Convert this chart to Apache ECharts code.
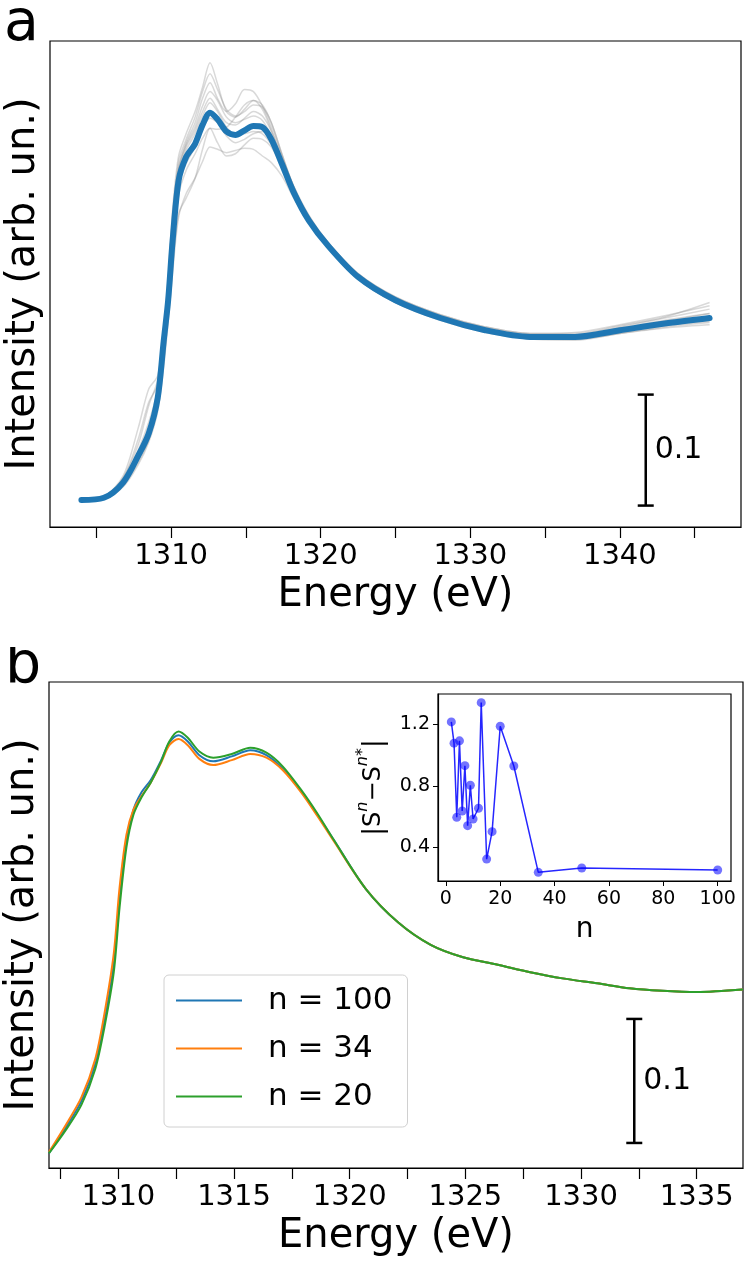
<!DOCTYPE html>
<html>
<head>
<meta charset="utf-8">
<title>XAS spectra</title>
<script src="https://cdn.jsdelivr.net/npm/echarts@6.0.0/dist/echarts.min.js"></script>
<style>
    html, body { margin: 0; padding: 0; background: #ffffff; }
    #main { width: 747px; height: 1265px; }
</style>
</head>
<body>
<div id="main"></div>
<script>
// ---------- panel a : energy grid shared by all the curves ----------
var energyA = [1304, 1305.5, 1306.8, 1307.8, 1308.5, 1309.1, 1309.5, 1309.8, 1310.1, 1310.5,
    1311, 1311.6, 1312.1, 1312.6, 1313.1, 1313.7, 1314.3, 1314.9, 1315.5, 1316.1,
    1316.7, 1317.4, 1318.2, 1319.2, 1320.5, 1322.5, 1325, 1328, 1331, 1334,
    1337, 1340, 1343, 1346]

// mean spectrum (blue)
var meanA = [0.000, 0.002, 0.016, 0.040, 0.060, 0.092, 0.143, 0.180, 0.234, 0.288,
    0.309, 0.321, 0.338, 0.349, 0.343, 0.332, 0.329, 0.333, 0.337, 0.336,
    0.325, 0.303, 0.277, 0.252, 0.229, 0.201, 0.180, 0.164, 0.153, 0.147,
    0.147, 0.153, 0.159, 0.164]

// individual spectra (grey)
var grey1 = [0.000, 0.003, 0.018, 0.045, 0.070, 0.100, 0.150, 0.200, 0.262, 0.310, 0.330, 0.350, 0.372, 0.394, 0.375, 0.350, 0.345, 0.352, 0.360, 0.352, 0.333, 0.308, 0.280, 0.255, 0.231, 0.203, 0.182, 0.166, 0.155, 0.149, 0.149, 0.156, 0.164, 0.172]
var grey2 = [0.000, 0.002, 0.020, 0.050, 0.085, 0.108, 0.150, 0.195, 0.250, 0.300, 0.322, 0.340, 0.362, 0.376, 0.362, 0.350, 0.357, 0.370, 0.368, 0.355, 0.336, 0.310, 0.283, 0.257, 0.232, 0.204, 0.183, 0.167, 0.156, 0.150, 0.151, 0.158, 0.166, 0.175]
var grey3 = [0.000, 0.001, 0.012, 0.032, 0.052, 0.080, 0.120, 0.160, 0.205, 0.255, 0.276, 0.290, 0.305, 0.318, 0.316, 0.313, 0.315, 0.317, 0.316, 0.310, 0.304, 0.292, 0.272, 0.250, 0.228, 0.199, 0.178, 0.162, 0.151, 0.145, 0.144, 0.150, 0.155, 0.158]
var grey4 = [0.000, 0.003, 0.022, 0.065, 0.100, 0.112, 0.150, 0.190, 0.245, 0.295, 0.318, 0.333, 0.350, 0.362, 0.352, 0.340, 0.338, 0.344, 0.350, 0.346, 0.332, 0.306, 0.279, 0.254, 0.230, 0.202, 0.181, 0.165, 0.154, 0.148, 0.148, 0.154, 0.161, 0.168]
var grey5 = [0.000, 0.002, 0.017, 0.042, 0.063, 0.096, 0.150, 0.192, 0.245, 0.298, 0.320, 0.336, 0.355, 0.368, 0.360, 0.345, 0.340, 0.343, 0.346, 0.342, 0.328, 0.305, 0.278, 0.253, 0.230, 0.202, 0.181, 0.165, 0.154, 0.148, 0.148, 0.155, 0.162, 0.168]
var grey6 = [0.000, 0.001, 0.014, 0.036, 0.055, 0.086, 0.130, 0.170, 0.222, 0.275, 0.297, 0.312, 0.326, 0.335, 0.334, 0.336, 0.345, 0.356, 0.360, 0.356, 0.340, 0.312, 0.282, 0.255, 0.231, 0.203, 0.181, 0.165, 0.154, 0.148, 0.147, 0.152, 0.158, 0.162]
var grey7 = [0.000, 0.002, 0.016, 0.040, 0.062, 0.094, 0.146, 0.188, 0.240, 0.292, 0.315, 0.330, 0.346, 0.358, 0.350, 0.336, 0.330, 0.330, 0.332, 0.330, 0.320, 0.300, 0.276, 0.251, 0.228, 0.200, 0.179, 0.163, 0.152, 0.146, 0.146, 0.151, 0.157, 0.161]
var grey8 = [0.000, 0.001, 0.013, 0.034, 0.054, 0.084, 0.125, 0.165, 0.212, 0.258, 0.272, 0.290, 0.316, 0.335, 0.322, 0.310, 0.312, 0.320, 0.326, 0.325, 0.318, 0.300, 0.275, 0.250, 0.227, 0.199, 0.178, 0.163, 0.152, 0.146, 0.145, 0.150, 0.156, 0.160]
var grey9 = [0.000, 0.003, 0.020, 0.055, 0.088, 0.104, 0.152, 0.198, 0.255, 0.305, 0.325, 0.345, 0.368, 0.384, 0.370, 0.352, 0.346, 0.350, 0.356, 0.354, 0.340, 0.312, 0.282, 0.256, 0.232, 0.204, 0.183, 0.167, 0.156, 0.150, 0.150, 0.157, 0.165, 0.178]
var grey10 = [0.000, 0.002, 0.015, 0.038, 0.058, 0.090, 0.138, 0.176, 0.228, 0.282, 0.303, 0.318, 0.334, 0.344, 0.340, 0.328, 0.322, 0.325, 0.330, 0.332, 0.326, 0.306, 0.280, 0.254, 0.230, 0.201, 0.180, 0.164, 0.153, 0.147, 0.146, 0.152, 0.158, 0.163]
var greyCurves = [grey1, grey2, grey3, grey4, grey5, grey6, grey7, grey8, grey9, grey10]

var ticksA = [1305, 1310, 1315, 1320, 1325, 1330, 1335, 1340, 1345]
var labelsA = [1310, 1320, 1330, 1340]
var scaleBarA = [1341.73, -0.005, 0.095]     // x, bottom, top (0.1 units)

// ---------- panel b ----------
var energyB = [1307.0, 1307.7, 1308.4, 1309.0, 1309.4, 1309.8, 1310.05, 1310.35, 1310.65, 1311.0,
    1311.4, 1311.85, 1312.2, 1312.6, 1313.0, 1313.5, 1314.1, 1314.9, 1315.7, 1316.4,
    1317.1, 1317.9, 1318.6, 1319.3, 1320.7, 1322.1, 1323.5, 1324.9, 1326.4, 1327.8,
    1329.2, 1330.7, 1332.1, 1333.5, 1335.0, 1337.0]
var n100 = [0.019, 0.039, 0.061, 0.091, 0.126, 0.172, 0.225, 0.272, 0.296, 0.310, 0.320, 0.336, 0.350, 0.356, 0.351, 0.340, 0.335, 0.339, 0.344, 0.340, 0.329, 0.311, 0.292, 0.272, 0.232, 0.205, 0.187, 0.177, 0.171, 0.165, 0.160, 0.156, 0.152, 0.150, 0.149, 0.151]
var n34 = [0.020, 0.041, 0.064, 0.095, 0.132, 0.180, 0.233, 0.276, 0.296, 0.307, 0.318, 0.334, 0.348, 0.353, 0.348, 0.337, 0.332, 0.336, 0.341, 0.338, 0.328, 0.310, 0.291, 0.271, 0.232, 0.205, 0.187, 0.177, 0.171, 0.165, 0.160, 0.156, 0.152, 0.150, 0.149, 0.151]
var n20 = [0.019, 0.037, 0.058, 0.087, 0.121, 0.165, 0.217, 0.266, 0.292, 0.306, 0.318, 0.335, 0.351, 0.359, 0.354, 0.343, 0.338, 0.341, 0.346, 0.342, 0.331, 0.312, 0.293, 0.272, 0.232, 0.205, 0.187, 0.177, 0.171, 0.165, 0.160, 0.156, 0.152, 0.150, 0.149, 0.151]
var seriesNamesB = ['n = 100', 'n = 34', 'n = 20']

var ticksB = [1307.5, 1310, 1312.5, 1315, 1317.5, 1320, 1322.5, 1325, 1327.5, 1330, 1332.5, 1335]
var labelsB = [1310, 1315, 1320, 1325, 1330, 1335]
var scaleBarB = [1332.3, 0.0273, 0.1273]

// ---------- inset : |S^n - S^n*| versus n ----------
var insetN = [2, 3, 4, 5, 6, 7, 8, 9, 10, 12, 13, 15, 17, 20, 25, 34, 50, 100]
var insetDiff = [1.215, 1.077, 0.596, 1.092, 0.637, 0.931, 0.542, 0.804, 0.585, 0.655,
    1.340, 0.325, 0.503, 1.187, 0.929, 0.239, 0.267, 0.254]
var insetTicksX = [0, 20, 40, 60, 80, 100]
var insetTicksY = [0.4, 0.8, 1.2]

var SCALE_LABEL = '0.1'
var FONT = 'DejaVu Sans'

function zip(xs, ys) {
    let out = []
    for (let i = 0; i < xs.length; i++) {
        out.push([xs[i], ys[i]])
    }
    return out
}

// scale bar drawn in data coordinates
function renderScaleBar(params, api) {
    let x = api.value(0)
    let p0 = api.coord([x, api.value(1)])
    let p1 = api.coord([x, api.value(2)])
    let cap = 8
    let st = {stroke: '#000000', lineWidth: 2.5}
    return {
        type: 'group',
        children: [
            {type: 'line', shape: {x1: p0[0], y1: p0[1], x2: p1[0], y2: p1[1]}, style: st},
            {type: 'line', shape: {x1: p0[0] - cap, y1: p0[1], x2: p0[0] + cap, y2: p0[1]}, style: st},
            {type: 'line', shape: {x1: p1[0] - cap, y1: p1[1], x2: p1[0] + cap, y2: p1[1]}, style: st},
            {
                type: 'text',
                x: p0[0] + 9,
                y: (p0[1] + p1[1]) / 2,
                style: {
                    text: SCALE_LABEL, fill: '#000000', font: '30px "DejaVu Sans"',
                    align: 'left', verticalAlign: 'middle',
                    textAlign: 'left', textVerticalAlign: 'middle'
                }
            }
        ]
    }
}

function energyAxis(gridIndex, min, max, ticks, labels) {
    return {
        type: 'value',
        gridIndex: gridIndex,
        min: min,
        max: max,
        name: 'Energy (eV)',
        nameLocation: 'middle',
        nameGap: 49,
        nameTextStyle: {fontFamily: FONT, fontSize: 40, color: '#000000'},
        axisLine: {show: true, onZero: false, lineStyle: {color: '#000000', width: 1.2}},
        axisTick: {show: true, inside: false, length: 11, customValues: ticks,
            lineStyle: {color: '#000000', width: 1.2}},
        axisLabel: {show: true, margin: 15, customValues: labels,
            fontFamily: FONT, fontSize: 29, color: '#000000',
            formatter: function (v) { return String(v) }},
        splitLine: {show: false}
    }
}

function intensityAxis(gridIndex, min, max) {
    return {
        type: 'value',
        gridIndex: gridIndex,
        min: min,
        max: max,
        name: 'Intensity (arb. un.)',
        nameLocation: 'middle',
        nameRotate: 90,
        nameGap: 6,
        nameTextStyle: {fontFamily: FONT, fontSize: 40, color: '#000000'},
        axisLine: {show: false, onZero: false},
        axisTick: {show: false},
        axisLabel: {show: false},
        splitLine: {show: false}
    }
}

var chartDom = document.getElementById('main');
var myChart = echarts.init(chartDom, null, {renderer: 'canvas'});
var option;

var series = []
// grey individual spectra
for (let i = 0; i < greyCurves.length; i++) {
    series.push({
        type: 'line',
        xAxisIndex: 0,
        yAxisIndex: 0,
        data: zip(energyA, greyCurves[i]),
        smooth: 0.3,
        symbol: 'none',
        silent: true,
        lineStyle: {color: 'rgba(128,128,128,0.3)', width: 1.5},
        z: 2
    })
}
// mean spectrum
series.push({
    type: 'line',
    xAxisIndex: 0,
    yAxisIndex: 0,
    data: zip(energyA, meanA),
    smooth: 0.3,
    symbol: 'none',
    lineStyle: {color: '#1f77b4', width: 6, cap: 'round'},
    z: 3
})
series.push({
    type: 'custom',
    xAxisIndex: 0,
    yAxisIndex: 0,
    renderItem: renderScaleBar,
    data: [scaleBarA],
    z: 4
})

// panel b spectra
var colorsB = ['#1f77b4', '#ff7f0e', '#2ca02c']
var curvesB = [n100, n34, n20]
for (let i = 0; i < curvesB.length; i++) {
    series.push({
        name: seriesNamesB[i],
        type: 'line',
        xAxisIndex: 1,
        yAxisIndex: 1,
        data: zip(energyB, curvesB[i]),
        smooth: 0.3,
        symbol: 'none',
        clip: true,
        lineStyle: {color: colorsB[i], width: 2},
        itemStyle: {color: colorsB[i]},
        z: 3 + i
    })
}
series.push({
    type: 'custom',
    xAxisIndex: 1,
    yAxisIndex: 1,
    renderItem: renderScaleBar,
    data: [scaleBarB],
    z: 7
})

// inset
series.push({
    type: 'line',
    xAxisIndex: 2,
    yAxisIndex: 2,
    data: zip(insetN, insetDiff),
    symbol: 'circle',
    symbolSize: 9,
    showSymbol: true,
    lineStyle: {color: 'rgba(0,0,255,0.85)', width: 1.5},
    itemStyle: {color: 'rgba(0,0,255,0.55)'},
    z: 10
})

option = {
    animation: false,
    backgroundColor: '#ffffff',
    grid: [
        {left: 50, top: 41, width: 691, height: 486, show: true, outerBoundsMode: 'none',
            borderColor: '#000000', borderWidth: 1.2, backgroundColor: '#ffffff', containLabel: false},
        {left: 49, top: 682, width: 694, height: 486, show: true, outerBoundsMode: 'none',
            borderColor: '#000000', borderWidth: 1.2, backgroundColor: '#ffffff', containLabel: false},
        {left: 438, top: 694, width: 293, height: 187, show: true, z: 8, outerBoundsMode: 'none',
            borderColor: '#000000', borderWidth: 1.2, backgroundColor: '#ffffff', containLabel: false}
    ],
    xAxis: [
        energyAxis(0, 1301.9, 1348.1, ticksA, labelsA),
        energyAxis(1, 1307, 1337, ticksB, labelsB),
        {
            type: 'value',
            gridIndex: 2,
            min: -2.9,
            max: 104.9,
            name: 'n',
            nameLocation: 'middle',
            nameGap: 35,
            nameTextStyle: {fontFamily: FONT, fontSize: 28, color: '#000000'},
            axisLine: {show: true, onZero: false, lineStyle: {color: '#000000', width: 1.2}},
            axisTick: {show: true, inside: false, length: 5, customValues: insetTicksX,
                lineStyle: {color: '#000000', width: 1}},
            axisLabel: {show: true, margin: 9, customValues: insetTicksX,
                fontFamily: FONT, fontSize: 19, color: '#000000'},
            splitLine: {show: false},
            z: 9
        }
    ],
    yAxis: [
        intensityAxis(0, -0.0243, 0.4136),
        intensityAxis(1, 0.0071, 0.399),
        {
            type: 'value',
            gridIndex: 2,
            min: 0.183,
            max: 1.396,
            name: '{bar||}{s|S}{sup|n}{s|\u2212S}{sup|n}{star|*}{bar||}',
            nameLocation: 'middle',
            nameRotate: 90,
            nameGap: 45,
            nameTextStyle: {
                fontFamily: FONT, color: '#000000',
                rich: {
                    bar: {fontFamily: FONT, fontSize: 26, lineHeight: 38, color: '#000000'},
                    s: {fontFamily: FONT, fontSize: 24, lineHeight: 38, color: '#000000'},
                    sup: {fontFamily: FONT, fontSize: 16, lineHeight: 16, fontStyle: 'italic',
                        verticalAlign: 'top', color: '#000000'},
                    star: {fontFamily: FONT, fontSize: 16, lineHeight: 16,
                        verticalAlign: 'top', color: '#000000'}
                }
            },
            axisLine: {show: true, onZero: false, lineStyle: {color: '#000000', width: 1.2}},
            axisTick: {show: true, inside: false, length: 5, customValues: insetTicksY,
                lineStyle: {color: '#000000', width: 1}},
            axisLabel: {show: true, margin: 8, customValues: insetTicksY,
                fontFamily: FONT, fontSize: 19, color: '#000000',
                formatter: function (v) { return v.toFixed(1) }},
            splitLine: {show: false},
            z: 9
        }
    ],
    legend: {
        data: seriesNamesB,
        orient: 'vertical',
        left: 164,
        top: 975,
        padding: [10, 15, 15, 12],
        itemGap: 17,
        itemWidth: 66,
        itemHeight: 2,
        icon: 'rect',
        backgroundColor: 'rgba(255,255,255,0.8)',
        borderColor: '#d0d0d0',
        borderWidth: 1,
        borderRadius: 5,
        textStyle: {fontFamily: FONT, fontSize: 31, color: '#000000', padding: [0, 0, 0, 21]},
        z: 12
    },
    graphic: [
        {type: 'text', x: 4, y: 25, z: 20, silent: true,
            style: {text: 'a', font: '57px "DejaVu Sans"', fill: '#000000',
                verticalAlign: 'middle', textVerticalAlign: 'middle'}},
        {type: 'text', x: 5, y: 667, z: 20, silent: true,
            style: {text: 'b', font: '57px "DejaVu Sans"', fill: '#000000',
                verticalAlign: 'middle', textVerticalAlign: 'middle'}},
        // the panel b letter is cut at the top in the original figure
        {type: 'rect', x: 0, y: 600, z: 21, silent: true, shape: {x: 0, y: 0, width: 45, height: 47},
            style: {fill: '#ffffff'}}
    ],
    series: series
};

option && myChart.setOption(option);
</script>
</body>
</html>
